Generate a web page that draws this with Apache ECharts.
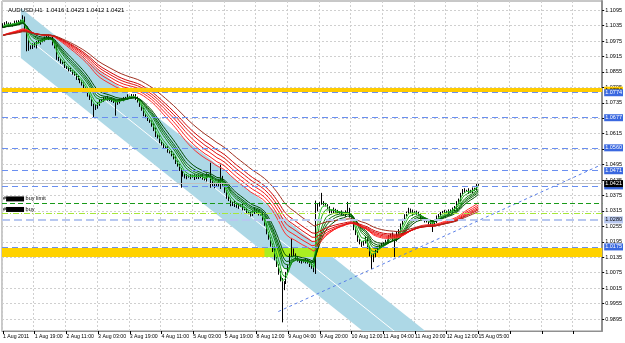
<!DOCTYPE html>
<html><head><meta charset="utf-8">
<script src="https://cdn.jsdelivr.net/npm/echarts@6/dist/echarts.min.js"></script>
<style>html,body{margin:0;padding:0;background:#fff}#c{width:625px;height:343px}</style>
</head><body><div id="c"></div>
<script>
// ---------------- data ----------------
const chartSymbol = 'AUDUSD,H1';
const firstOpen = 11030; // pips
const closePips = [
11039,11045,11043,11036,11041,11039,11046,11051,11048,11055,11066,
11020,10981,10945,10950,
10961,10955,10973,10968,10975,10981,10986,10992,10985,10988,
10965,10950,10911,10902,10895,10888,
10876,10870,10864,10858,10852,10845,10833,10826,10817,10806,10794,10780,10767,10748,10728,
10720,10716,10730,10741,10747,
10752,10755,10750,10744,10747,10738,10732,10740,10745,10747,
10750,10755,10760,10758,10763,10760,10755,10740,10725,10708,
10690,10677,10670,10660,10650,10630,10611,10600,10585,10572,
10566,10560,10548,10540,10533,10520,10506,10490,10478,10467,
10455,10444,10450,10446,10451,10448,10444,10450,10446,10451,
10442,10436,10455,10450,10440,10416,10412,10416,10430,10445,
10420,10389,10370,10355,10339,10345,10339,10330,10338,10335,
10325,10319,10310,10305,10300,10312,10319,10310,10305,10300,
10285,10261,10230,10205,10183,10160,10132,10100,10075,10047,10010,
10039,10070,10105,10140,10163,10145,10132,10125,10117,
10120,10117,10125,10112,10105,10095,10086,
10320,10335,10345,10350,
10340,10339,10325,10311,10315,10319,10312,10308,10311,
10305,10300,10310,10319,10295,10280,
10249,10225,10202,10190,10183,10195,10210,10170,10144,10125,
10140,10160,10171,10178,10183,10190,10196,10202,10215,10222,10210,10202,10225,10241,
10260,10280,10295,10310,10319,10311,10305,10310,10307,10300,
10288,10282,10278,10272,10268,10262,10261,10275,10290,10300,
10305,10311,10308,10314,10311,10316,10319,10330,10345,10358,
10378,10397,10392,10395,10389,10393,10397,10400,10416,10421
];
// upper / lower wick size in pips, one digit per bar
const wickHi = '5374628453'+'9463857264'+'3648275936'+'4725836472'+'5836274958'+'3627485936'+'4738265947'+'3847265938'+'4726385947'+'3648275946'+'5736284957'+'4637285946'+'3748265937'+'4826375948'+'6738294657'+'3846275938'+'4736285947'+'3647285936'+'4738265947'+'5837264958'+'3647285946'+'4738265937'+'3648275948'+'5736284957'+'2';
const wickLo = '4637285946'+'3748265937'+'5826374958'+'3647285936'+'4738265947'+'5837264958'+'3648275946'+'4726385947'+'3847265938'+'5736284957'+'4637285946'+'3748265937'+'4826375948'+'3846275938'+'6738294657'+'4736285947'+'3647285936'+'4738265947'+'5837264958'+'3647285946'+'4738265937'+'3648275948'+'5736284957'+'4637285946'+'4';
// notable wick extremes: bar -> [low, high] (pips)
const wickSpikes = {10:[null,11075],12:[10935,null],46:[10680,null],57:[10685,null],90:[10405,null],
  105:[10405,10502],110:[10400,10495],141:[9882,null],146:[null,10210],158:[10070,10355],
  161:[null,10385],174:[null,10350],186:[10090,null],198:[10136,null],217:[10233,null]};
const futureBars = 62;
const xTickLabels = ['1 Aug 2011','1 Aug 19:00','2 Aug 11:00','3 Aug 03:00','3 Aug 19:00','4 Aug 11:00',
  '5 Aug 03:00','5 Aug 19:00','8 Aug 12:00','9 Aug 04:00','9 Aug 20:00','10 Aug 12:00','11 Aug 04:00',
  '11 Aug 20:00','12 Aug 12:00','15 Aug 05:00'];
const yTickValues = [1.1095,1.1035,1.0975,1.0915,1.0855,1.0795,1.0735,1.0675,1.0615,1.0555,1.0495,
  1.0435,1.0375,1.0315,1.0255,1.0195,1.0135,1.0075,1.0015,0.9955,0.9895];
const greenPeriods = [3,5,8,10,12,15];
const redPeriods = [30,35,40,45,50,60];
const greenSeed = 1.1025, redSeed = 1.0995;
const channelBars = [9, 260];
const channelUpper = [1.1103, 0.9561];
const channelLower = [1.0909, 0.9367];
const channelMidStartBar = 16;
const trendBars = [139, 302];
const trendPrices = [0.9924, 1.0494];
const yellowLevel = 1.0784;
const blueLevels = [1.0774, 1.0677, 1.0560, 1.0471, 1.0412, 1.0175];
const buyLimitLevel = 1.0346;
const buyLevel = 1.0305;
const paleLevel = 1.0280;
const supportBand = [1.0136, 1.0171];
const supportHighlightBars = [132, 158];
const topBand = [1.0777, 1.0791];
const topHighlightBars = [32, 55];

// ---------------- build ----------------
const N = closePips.length;
const total = N + futureBars;
const cats = Array.from({length: total}, (_, i) => String(i));
const ohlc = [];
for (let i = 0; i < N; i++) {
  const o = i === 0 ? firstOpen : closePips[i-1];
  const c = closePips[i];
  let h = Math.max(o, c) + Number(wickHi[i]);
  let l = Math.min(o, c) - Number(wickLo[i]);
  const s = wickSpikes[i];
  if (s) { if (s[0] != null) l = s[0]; if (s[1] != null) h = s[1]; }
  ohlc.push([o/1e4, c/1e4, l/1e4, h/1e4]);
}
function ema(period, seed) {
  const k = 2 / (period + 1); let e = seed;
  return closePips.map(c => { e = e + k * (c/1e4 - e); return +e.toFixed(5); });
}
const last = ohlc[N-1];
const titleText = chartSymbol + '  ' + [last[0], last[3], last[2], last[1]].map(v => v.toFixed(4)).join(' ');

const FONT = 'Liberation Sans';
const yMin = 0.98484, yMax = 1.11304;

const greenColors = ['#33cc33','#22aa22','#118811','#0a700a','#006000','#004d00'];
const redColors = ['#ff3030','#ff2020','#f01818','#e01010','#d00808','#a03020'];

function lvlLabel(val, bg, fg) {
  return {show: true, position: 'end', distance: 2, formatter: val.toFixed(4),
    backgroundColor: bg, color: fg, fontSize: 5.5, fontFamily: FONT, padding: [1,1,0,1]};
}
function descLabel(txt) {
  return {show: true, position: 'insideStartTop', distance: 1, formatter: '{h|#}{b|}{t| ' + txt + '}',
    rich: {h: {fontSize: 5.5, fontFamily: FONT, color: '#000'}, b: {backgroundColor: '#000', width: 18, height: 5},
      t: {fontSize: 5.5, fontFamily: FONT, color: '#000'}}};
}
const markLines = [];
markLines.push({yAxis: yellowLevel, lineStyle: {color: '#ffcc00', width: 4, type: 'solid'}, label: lvlLabel(yellowLevel, '#ffcc00', '#000')});
blueLevels.forEach(v => markLines.push({yAxis: v, lineStyle: {color: '#6a8ff0', width: 1, type: [6,4]}, label: lvlLabel(v, '#3a68e0', '#fff')}));
markLines.push({yAxis: paleLevel, lineStyle: {color: '#b8c8f0', width: 2, type: [8,4]}, label: lvlLabel(paleLevel, '#b8c8f0', '#000')});
markLines.push({yAxis: buyLimitLevel, lineStyle: {color: '#199a19', width: 1, type: [5,3]}, label: descLabel('buy limit')});
markLines.push({yAxis: buyLevel, lineStyle: {color: '#a6e83a', width: 1, type: [6,2,1,2]}, label: descLabel('buy')});
markLines.push({yAxis: last[1], lineStyle: {color: '#c0c0c0', width: 1, type: 'solid'}, label: lvlLabel(last[1], '#000', '#fff')});

const option = {
  animation: false,
  backgroundColor: '#ffffff',
  title: {text: titleText, left: 3, top: 2, textStyle: {fontSize: 6, fontWeight: 'normal', fontFamily: FONT, color: '#000'}},
  grid: {left: 0, right: 19, top: 1, bottom: 12, show: true, borderColor: '#909090', borderWidth: 1, containLabel: false},
  xAxis: {type: 'category', data: cats, boundaryGap: true,
    axisLine: {show: true, lineStyle: {color: '#909090', width: 1}},
    axisTick: {show: true, alignWithLabel: true, interval: (i) => i % 16 === 0, length: 3, lineStyle: {color: '#000'}},
    axisLabel: {interval: 0, hideOverlap: false, formatter: (v) => { const i = Number(v); return i % 16 === 0 ? (xTickLabels[i / 16] || '') : ''; },
      align: 'left', fontSize: 5.2, fontFamily: FONT, color: '#000', margin: 3},
    splitLine: {show: true, interval: (i) => i % 16 === 0, lineStyle: {color: '#cfcfcf', type: [2,2], width: 1}}},
  yAxis: {type: 'value', position: 'right', min: yMin, max: yMax, scale: true,
    axisLine: {show: true, lineStyle: {color: '#909090', width: 2}},
    axisTick: {show: true, customValues: yTickValues, length: 2, lineStyle: {color: '#000'}},
    axisLabel: {customValues: yTickValues, formatter: v => Number(v).toFixed(4), fontSize: 5.5, fontFamily: FONT, color: '#000', margin: 3},
    splitLine: {show: true, lineStyle: {color: '#cfcfcf', type: [2,2], width: 1}}},
  series: [
    {type: 'custom', z: 0, silent: true, clip: true, data: [[0]],
      renderItem: (params, api) => {
        const a = api.coord([channelBars[0], channelUpper[0]]);
        const b = api.coord([channelBars[1], channelUpper[1]]);
        const c = api.coord([channelBars[1], channelLower[1]]);
        const d = api.coord([channelBars[0], channelLower[0]]);
        const t = (channelMidStartBar - channelBars[0]) / (channelBars[1] - channelBars[0]);
        const mid0 = (channelUpper[0] + channelLower[0]) / 2, mid1 = (channelUpper[1] + channelLower[1]) / 2;
        const m0 = api.coord([channelMidStartBar, mid0 + (mid1 - mid0) * t]);
        const m1 = api.coord([channelBars[1], mid1]);
        return {type: 'group', children: [
          {type: 'polygon', shape: {points: [a, b, c, d]}, style: {fill: '#add8e6'}},
          {type: 'line', shape: {x1: m0[0], y1: m0[1], x2: m1[0], y2: m1[1]}, style: {stroke: '#ffffff', lineWidth: 1}}
        ]};
      }},
    {type: 'line', z: 1, silent: true, data: [],
      markArea: {silent: true, precision: 5, data: [
        [{yAxis: supportBand[0], itemStyle: {color: '#ffd200'}}, {yAxis: supportBand[1]}],
        [{xAxis: String(supportHighlightBars[0]), yAxis: supportBand[0], itemStyle: {color: '#aaee22'}}, {xAxis: String(supportHighlightBars[1]), yAxis: supportBand[1]}],
        [{xAxis: String(topHighlightBars[0]), yAxis: topBand[0], itemStyle: {color: '#bbee22'}}, {xAxis: String(topHighlightBars[1]), yAxis: topBand[1]}]
      ]},
      markLine: {silent: true, precision: 5, symbol: ['none', 'none'], animation: false, data: markLines}},
    {type: 'custom', z: 2, silent: true, clip: true, data: [[0]],
      renderItem: (params, api) => {
        const a = api.coord([trendBars[0], trendPrices[0]]);
        const b = api.coord([trendBars[1], trendPrices[1]]);
        return {type: 'line', shape: {x1: a[0], y1: a[1], x2: b[0], y2: b[1]}, style: {stroke: '#5a7fe8', lineWidth: 1, lineDash: [3,3]}};
      }},
    {type: 'candlestick', z: 3, silent: true, data: ohlc, barWidth: 1,
      itemStyle: {color: '#ffffff', color0: '#000000', borderColor: '#000000', borderColor0: '#000000', borderWidth: 1}},
    ...greenPeriods.map((p, k) => ({type: 'line', z: 4, silent: true, showSymbol: false, data: ema(p, greenSeed),
      lineStyle: {color: greenColors[k], width: 1}})),
    ...redPeriods.map((p, k) => ({type: 'line', z: 4, silent: true, showSymbol: false, data: ema(p, redSeed),
      lineStyle: {color: redColors[k], width: 1}}))
  ]
};
const chart = echarts.init(document.getElementById('c'), null, {renderer: 'canvas'});
chart.setOption(option);
</script>
</body></html>
